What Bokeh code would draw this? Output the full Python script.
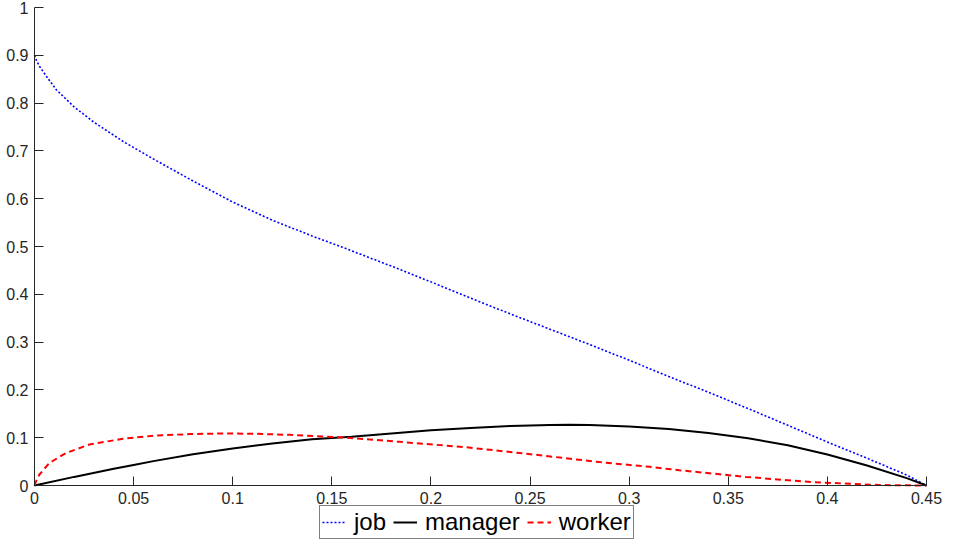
from bokeh.plotting import figure
from bokeh.models import FixedTicker, Legend, LegendItem
from bokeh.embed import file_html
from bokeh.resources import INLINE

# data
job_x = [0.0, 0.001, 0.0025, 0.006, 0.011, 0.02, 0.03, 0.045, 0.06, 0.08, 0.1, 0.12, 0.14,
         0.155, 0.16, 0.18, 0.2, 0.22, 0.24, 0.26, 0.28, 0.3, 0.32, 0.34, 0.36, 0.38, 0.4,
         0.42, 0.44, 0.45]
job_y = [0.9, 0.889, 0.877, 0.856, 0.828, 0.792, 0.760, 0.719, 0.683, 0.637, 0.593, 0.555, 0.522,
         0.499, 0.491, 0.459, 0.426, 0.392, 0.359, 0.327, 0.295, 0.262, 0.228, 0.195, 0.161,
         0.126, 0.091, 0.057, 0.022, 0.0]

manager_x = [0.0, 0.02, 0.04, 0.05, 0.06, 0.08, 0.1, 0.12, 0.14, 0.16, 0.18, 0.2, 0.22, 0.24,
             0.26, 0.27, 0.28, 0.3, 0.32, 0.34, 0.36, 0.38, 0.4, 0.42, 0.44, 0.45]
manager_y = [0.0, 0.018, 0.035, 0.043, 0.051, 0.0655, 0.0775, 0.088, 0.097, 0.102, 0.109, 0.1155,
             0.1205, 0.1245, 0.1265, 0.127, 0.1265, 0.1235, 0.118, 0.110, 0.099, 0.084, 0.065,
             0.042, 0.0155, 0.0]

worker_x = [0.0, 0.001, 0.0025, 0.0076, 0.016, 0.0277, 0.0445, 0.0613, 0.0782, 0.095, 0.1118,
            0.1286, 0.1538, 0.184, 0.2177, 0.2513, 0.285, 0.3102, 0.3253, 0.3589, 0.3925,
            0.4261, 0.45]
worker_y = [0.0, 0.011, 0.023, 0.0475, 0.068, 0.0858, 0.0977, 0.1046, 0.1075, 0.1088, 0.1082,
            0.106, 0.101, 0.0914, 0.080, 0.065, 0.049, 0.039, 0.032, 0.018, 0.007, 0.001, 0.0]

x_ticks = [0, 0.05, 0.1, 0.15, 0.2, 0.25, 0.3, 0.35, 0.4, 0.45]
x_labels = ["0", "0.05", "0.1", "0.15", "0.2", "0.25", "0.3", "0.35", "0.4", "0.45"]
y_ticks = [0, 0.1, 0.2, 0.3, 0.4, 0.5, 0.6, 0.7, 0.8, 0.9, 1.0]
y_labels = ["0", "0.1", "0.2", "0.3", "0.4", "0.5", "0.6", "0.7", "0.8", "0.9", "1"]

FONT = "Liberation Sans"
AX = "#262626"

# canvas geometry (pixels): axes box from x=34..926, y=7 (value 1) .. 485 (value 0)
W, H = 946, 540
LEFT_PX, RIGHT_PX, TOP_PX, ZERO_PX = 34, 926, 7, 485
X_MAX, Y_MAX = x_ticks[-1], y_ticks[-1]
sx = (RIGHT_PX - LEFT_PX) / X_MAX
sy = (ZERO_PX - TOP_PX) / Y_MAX
x_lo, x_hi = -LEFT_PX / sx, X_MAX + (W - RIGHT_PX) / sx
y_lo, y_hi = -(H - ZERO_PX) / sy, Y_MAX + TOP_PX / sy

p = figure(width=W, height=H, output_backend="svg", toolbar_location=None,
           x_range=(x_lo, x_hi), y_range=(y_lo, y_hi),
           min_border=0)
p.outline_line_color = None
p.xgrid.visible = False
p.ygrid.visible = False
p.background_fill_color = None
p.xaxis.fixed_location = 0
p.yaxis.fixed_location = 0
p.xaxis.bounds = (0, X_MAX)
p.yaxis.bounds = (0, Y_MAX)

for ax, ticks, labels in ((p.xaxis[0], x_ticks, x_labels), (p.yaxis[0], y_ticks, y_labels)):
    ax.ticker = FixedTicker(ticks=ticks)
    ax.major_label_overrides = {t: l for t, l in zip(ticks, labels)}
    ax.minor_tick_line_color = None
    ax.major_tick_in = 9
    ax.major_tick_out = 0
    ax.axis_line_color = AX
    ax.major_tick_line_color = AX
    ax.major_label_text_color = AX
    ax.major_label_text_font = FONT
    ax.major_label_text_font_size = "16px"
    ax.major_label_standoff = 6

r_job = p.line(job_x, job_y, line_color="#0000ff", line_width=1.6, line_dash="2 2")
r_man = p.line(manager_x, manager_y, line_color="black", line_width=2)
r_wor = p.line(worker_x, worker_y, line_color="#ff0000", line_width=2, line_dash="6 4")

legend = Legend(items=[LegendItem(label="job", renderers=[r_job]),
                       LegendItem(label="manager", renderers=[r_man]),
                       LegendItem(label="worker", renderers=[r_wor])],
                orientation="horizontal", location=(319, 1))
legend.border_line_color = "black"
legend.border_line_width = 1
legend.label_text_font = FONT
legend.label_text_font_size = "24px"
legend.label_text_color = "black"
legend.label_height = 26
legend.glyph_height = 26
legend.glyph_width = 24
legend.label_standoff = 8
legend.spacing = 7
legend.padding = 2
legend.margin = 0
p.add_layout(legend)

open("out.html", "w").write(file_html(p, INLINE))
